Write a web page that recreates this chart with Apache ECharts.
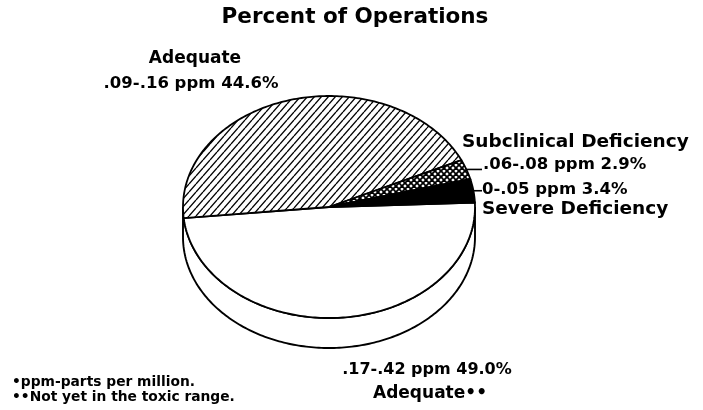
<!DOCTYPE html>
<html><head><meta charset="utf-8">
<script src="https://cdn.jsdelivr.net/npm/echarts@6/dist/echarts.min.js"></script>
<style>html,body{margin:0;padding:0;background:#fff}#c{width:703px;height:410px}</style>
</head><body><div id="c"></div>
<script>
// ---- data ----
const titleText = 'Percent of Operations';
const ranges = ['.17-.42', '.09-.16', '.06-.08', '0-.05'];
const names = ['Adequate\u2022\u2022', 'Adequate', 'Subclinical Deficiency', 'Severe Deficiency'];
const values = [49.0, 44.6, 2.9, 3.4];
const footnotes = ['\u2022ppm-parts per million.', '\u2022\u2022Not yet in the toxic range.'];

// ---- layout ----
const CX = 329, CY = 207, RX = 146, RY = 111, DEPTH = 30, START = -2.3;
const FONT = 'DejaVu Sans';

function hatchCanvas() {
  const w = 7, h = 8, c = document.createElement('canvas');
  c.width = w; c.height = h;
  const g = c.getContext('2d');
  g.fillStyle = '#fff'; g.fillRect(0, 0, w, h);
  g.strokeStyle = '#000'; g.lineWidth = 1.3;
  for (const dx of [-w, 0, w]) { g.beginPath(); g.moveTo(dx, h); g.lineTo(dx + w, 0); g.stroke(); }
  return c;
}
function crossCanvas() {
  const w = 6, h = 6, c = document.createElement('canvas');
  c.width = w; c.height = h;
  const g = c.getContext('2d');
  g.fillStyle = '#fff'; g.fillRect(0, 0, w, h);
  g.strokeStyle = '#000'; g.lineWidth = 1.8;
  for (const dx of [-w, 0, w]) {
    g.beginPath(); g.moveTo(dx, h); g.lineTo(dx + w, 0); g.stroke();
    g.beginPath(); g.moveTo(dx, 0); g.lineTo(dx + w, h); g.stroke();
  }
  return c;
}
const fills = ['#fff', { image: hatchCanvas(), repeat: 'repeat' }, { image: crossCanvas(), repeat: 'repeat' }, '#000'];

const total = values.reduce((a, b) => a + b, 0);
function ept(tDeg, dy) {
  const t = tDeg * Math.PI / 180;
  return [CX + RX * Math.cos(t), CY + RY * Math.sin(t) + (dy || 0)];
}

function renderItem(params, api) {
  const i = params.dataIndex;
  let before = 0;
  for (let k = 0; k < i; k++) before += values[k];
  const v = api.value(0);
  const a0 = START + before / total * 360;
  const a1 = a0 + v / total * 360;
  const children = [];
  if (i === 0) {
    const side = [];
    for (let t = 0; t <= 180; t += 1) side.push(ept(t));
    for (let t = 180; t >= 0; t -= 1) side.push(ept(t, DEPTH));
    children.push({ type: 'polygon', shape: { points: side }, style: { fill: '#fff', stroke: '#000', lineWidth: 1.9 } });
  }
  const pts = [[CX, CY]];
  const n = Math.max(2, Math.ceil(a1 - a0));
  for (let s = 0; s <= n; s++) pts.push(ept(a0 + (a1 - a0) * s / n));
  children.push({ type: 'polygon', shape: { points: pts }, style: { fill: fills[i], stroke: '#000', lineWidth: 1.8 } });
  if (i >= 2) {
    const m = ept((a0 + a1) / 2);
    children.push({ type: 'line', shape: { x1: m[0], y1: m[1], x2: 482, y2: m[1] }, style: { stroke: '#000', lineWidth: 1.6 } });
  }
  return { type: 'group', children };
}

function txt(x, y, s, size, align) {
  return { type: 'text', x, y, style: { text: s, font: `bold ${size}px "${FONT}"`, fill: '#000', textAlign: align || 'center', textVerticalAlign: 'middle' } };
}
const lab = i => `${ranges[i]} ppm ${values[i].toFixed(1)}%`;

const chart = echarts.init(document.getElementById('c'), null, { renderer: 'canvas' });
chart.setOption({
  animation: false,
  series: [{ type: 'custom', coordinateSystem: 'none', renderItem, data: values.map(v => [v]) }],
  graphic: [
    txt(355, 17, titleText, 21.5),
    txt(195, 59, names[1], 17),
    txt(191, 84, lab(1), 16.5),
    txt(462, 142, names[2], 18.5, 'left'),
    txt(483, 165, lab(2), 16.5, 'left'),
    txt(482, 190, lab(3), 16.5, 'left'),
    txt(482, 209, names[3], 18.5, 'left'),
    txt(427, 370, lab(0), 16),
    txt(430, 394, names[0], 17),
    txt(12, 382, footnotes[0], 13.8, 'left'),
    txt(12, 397, footnotes[1], 13.8, 'left')
  ]
});
</script></body></html>
